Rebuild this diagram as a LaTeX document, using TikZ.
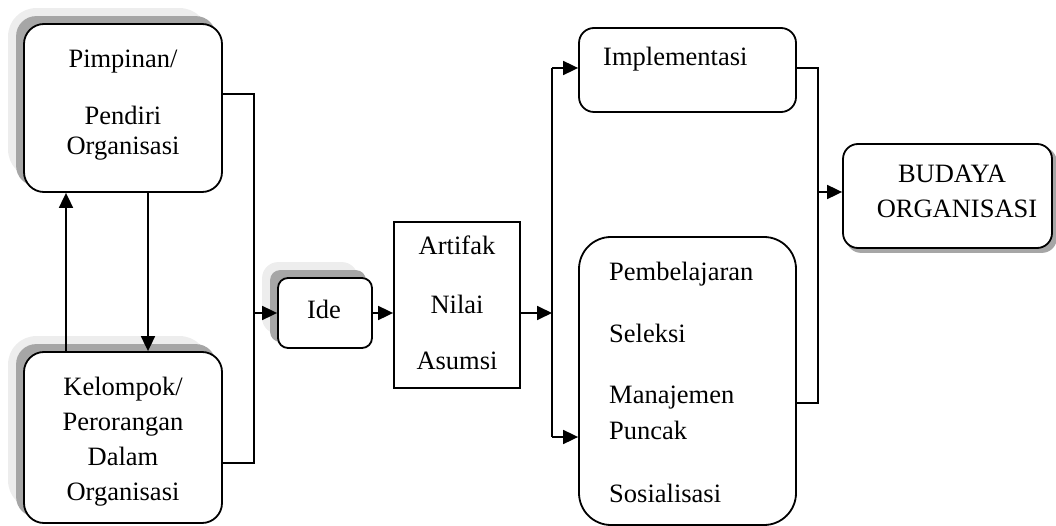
\documentclass[tikz,border=0pt]{standalone}
\usepackage{fontspec}
\setmainfont{Liberation Serif}
\usetikzlibrary{arrows.meta,backgrounds}
\definecolor{shdark}{HTML}{A6A6A6}
\definecolor{shlight}{HTML}{EDEDED}
\tikzset{
  box/.style={draw=black, line width=1.8pt, fill=white, rectangle, inner sep=0pt},
  txt/.style={anchor=base, inner sep=0pt, font=\fontsize{26.5}{30}\selectfont},
  ltxt/.style={txt, anchor=base west},
  conn/.style={line width=1.8pt},
  arr/.style={line width=1.8pt, -{Triangle[length=15pt,width=14pt]}},
}
\newcommand{\shadowpair}[3]{%
  \fill[shlight, rounded corners=#3] ([shift={(-15pt,15pt)}]#1.south west) rectangle ([shift={(-15pt,15pt)}]#1.north east);
  \fill[shdark, rounded corners=#2] ([shift={(-7pt,7pt)}]#1.south west) rectangle ([shift={(-7pt,7pt)}]#1.north east);}
\begin{document}
\begin{tikzpicture}[x=1pt,y=-1pt]
\useasboundingbox (0,0) rectangle (1056,526);
% boxes
\node[box, rounded corners=20pt, minimum width=198pt, minimum height=168pt] (A) at (123,108) {};
\node[box, rounded corners=20pt, minimum width=198pt, minimum height=171pt] (B) at (123,437.5) {};
\node[box, rounded corners=10pt, minimum width=94pt, minimum height=70pt] (Ide) at (325,313) {};
\node[box, minimum width=126pt, minimum height=166pt] (Art) at (457,305) {};
\node[box, rounded corners=15pt, minimum width=217pt, minimum height=84pt] (Imp) at (687.5,70) {};
\node[box, rounded corners=32pt, minimum width=217pt, minimum height=288pt] (Low) at (687.5,381) {};
\node[box, rounded corners=15pt, minimum width=209pt, minimum height=104pt] (Bud) at (947.5,196) {};
% shadows
\begin{scope}[on background layer]
\shadowpair{A}{20pt}{28pt}
\shadowpair{B}{20pt}{28pt}
\shadowpair{Ide}{10pt}{16pt}
\fill[shdark, rounded corners=15pt] ([shift={(4pt,-4pt)}]Bud.south west) rectangle ([shift={(4pt,-4pt)}]Bud.north east);
\end{scope}
% texts
\node[txt] (a1) at (123,68) {Pimpinan/};
\node[txt] (a2) at (123,125) {Pendiri};
\node[txt] (a3) at (123,155) {Organisasi};
\node[txt] (b1) at (123,395) {Kelompok/};
\node[txt] (b2) at (123,430) {Perorangan};
\node[txt] (b3) at (123,465) {Dalam};
\node[txt] (b4) at (123,500) {Organisasi};
\node[txt] (i1) at (324,318) {Ide};
\node[txt] (r1) at (457,255) {Artifak};
\node[txt] (r2) at (457,313) {Nilai};
\node[txt] (r3) at (457,369) {Asumsi};
\node[ltxt] (m1) at (603,66) {Implementasi};
\node[ltxt] (l1) at (609,280) {Pembelajaran};
\node[ltxt] (l2) at (609,342) {Seleksi};
\node[ltxt] (l3) at (609,403) {Manajemen};
\node[ltxt] (l4) at (609,439) {Puncak};
\node[ltxt] (l5) at (609,502) {Sosialisasi};
\node[txt] (u1) at (952,183) {BUDAYA};
\node[txt] (u2) at (957,218) {ORGANISASI};
% junction coordinates
\coordinate (j1) at (254,94);
\coordinate (j2) at (254,463);
\coordinate (j3) at (254,313);
\coordinate (k1) at (552,68);
\coordinate (k2) at (552,437);
\coordinate (k3) at (552,313);
\coordinate (n1) at (818,68);
\coordinate (n2) at (818,403);
\coordinate (n3) at (818,192);
\coordinate (up) at (66,0);
\coordinate (dn) at (148,0);
% connectors
\draw[conn] (A.east |- j1) -- (j1) -- (j2) -- (B.east |- j2);
\draw[arr] (j3) -- (Ide.west);
\draw[arr] (Ide.east) -- (Art.west |- Ide.east);
\draw[arr] (Art.east |- k3) -- (k3);
\draw[conn] (k1) -- (k2);
\draw[arr] (k1) -- (Imp.west |- k1);
\draw[arr] (k2) -- (Low.west |- k2);
\draw[conn] (Imp.east |- n1) -- (n1) -- (n2) -- (Low.east |- n2);
\draw[arr] (n3) -- (Bud.west |- n3);
\draw[arr] (B.north -| up) -- (A.south -| up);
\draw[arr] (A.south -| dn) -- (B.north -| dn);
\end{tikzpicture}
\end{document}
